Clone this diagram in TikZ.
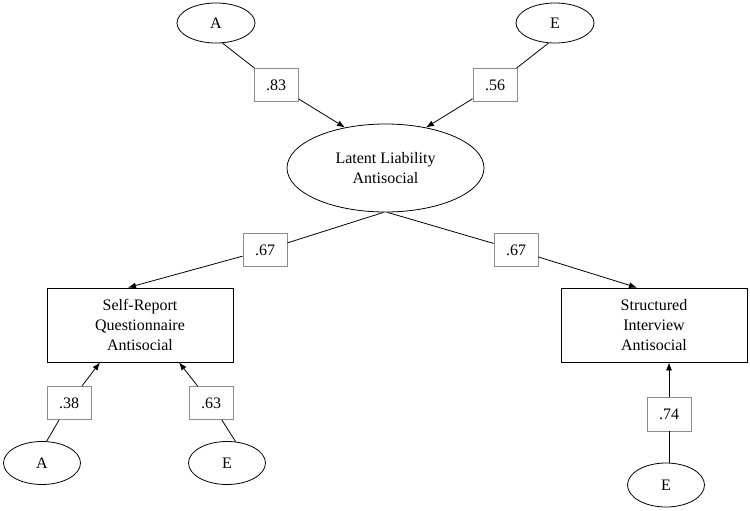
\documentclass[tikz,border=0pt]{standalone}
\usepackage{fontspec}
\setmainfont{Liberation Serif}
\usetikzlibrary{shapes.geometric,arrows.meta}
\tikzset{
  factor/.style={draw, ellipse, line width=0.8pt, inner sep=0pt},
  medida/.style={draw, rectangle, line width=0.8pt, align=center, inner sep=0pt,
    minimum width=186pt, minimum height=74pt},
  peso/.style={draw=black!45, rectangle, line width=0.8pt, inner sep=0pt,
    minimum width=44pt, minimum height=33pt},
}
\begin{document}
\begin{tikzpicture}[x=1pt, y=-1pt, >={Latex[length=8pt,width=6pt]}, line width=0.8pt,
    font=\fontsize{16}{20}\selectfont]
        \useasboundingbox (0,0) rectangle (750,511);
        \node[factor, minimum width=78pt, minimum height=40pt] (aTop) at (216,23) {A};
        \node[factor, minimum width=78pt, minimum height=40pt] (eTop) at (555,23) {E};
        \node[factor, minimum width=197pt, minimum height=88pt, align=center] (lat) at (385.5,168) {Latent Liability\\Antisocial};
        \node[peso] (p83) at (276,85) {.83};
        \node[peso] (p56) at (495,85) {.56};
        \node[medida] (sr) at (140,325) {Self-Report\\Questionnaire\\Antisocial};
        \node[medida] (si) at (654,325) {Structured\\Interview\\Antisocial};
        \node[peso] (p67a) at (265,250) {.67};
        \node[peso] (p67b) at (516,250) {.67};
        \node[peso] (p38) at (69,403) {.38};
        \node[peso] (p63) at (211,403) {.63};
        \node[peso, minimum height=34pt] (p74) at (669,414) {.74};
        \node[factor, minimum width=77pt, minimum height=43pt] (aBot) at (42,463) {A};
        \node[factor, minimum width=77pt, minimum height=43pt] (eBot) at (227,463) {E};
        \node[factor, minimum width=77pt, minimum height=44pt] (eSi) at (666,485) {E};
        \draw (aTop.-72) -- (p83);
        \draw [->] (p83) -- (lat.135);
        \draw (eTop.-108) -- (p56);
        \draw [->] (p56) -- (lat.45);
        \draw ([xshift=-2pt]lat.south) -- (p67a);
        \draw [->] (p67a) -- ([xshift=-12pt]sr.north);
        \draw ([xshift=2pt]lat.south) -- (p67b);
        \draw [->] (p67b) -- ([xshift=-17pt]si.north);
        \draw (aBot.78) -- (p38);
        \draw [->] (p38) -- ([xshift=-40pt]sr.south);
        \draw (eBot.68) -- (p63);
        \draw [->] (p63) -- ([xshift=39pt]sr.south);
        \draw (eSi.north -| p74) -- (p74);
        \draw [->] (p74) -- (p74 |- si.south);
     \end{tikzpicture}
\end{document}
